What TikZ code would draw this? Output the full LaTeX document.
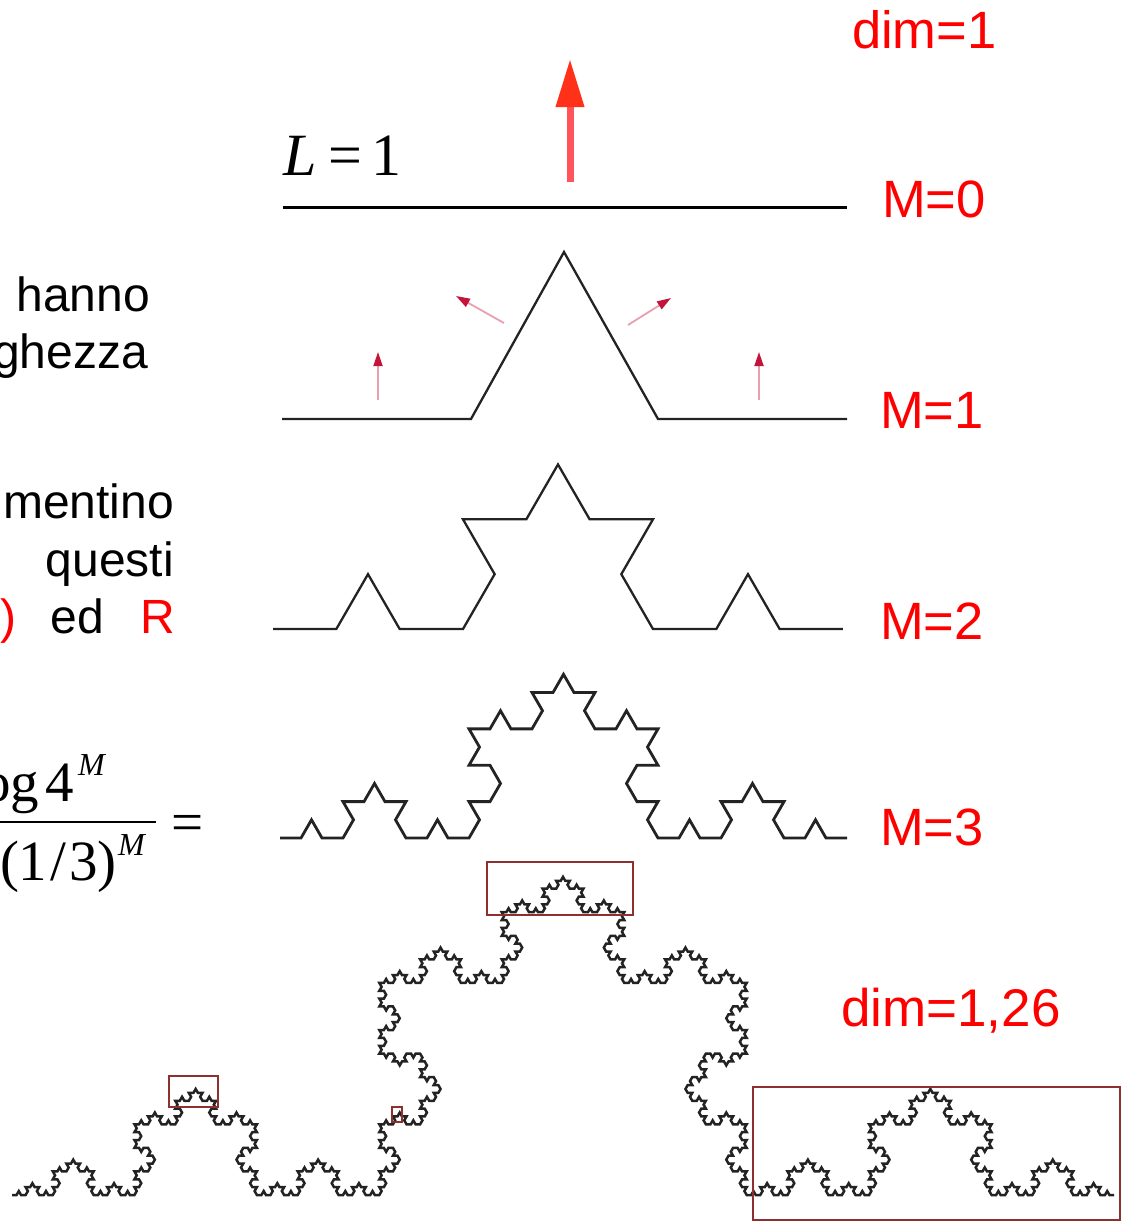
\documentclass[tikz,border=0pt]{standalone}
\usepackage{fontspec}
\setmainfont{Liberation Sans}
\newfontfamily\serifF{Liberation Serif}
\usetikzlibrary{arrows.meta,lindenmayersystems}
\pgfdeclarelindenmayersystem{KochC}{\rule{F -> F+F--F+F}}
\definecolor{redtxt}{RGB}{255,0,0}
\definecolor{boxred}{RGB}{140,48,48}
\definecolor{bigshaft}{RGB}{255,85,90}
\definecolor{bighead}{RGB}{255,50,25}
\definecolor{smallshaft}{RGB}{232,160,175}
\definecolor{smallhead}{RGB}{195,20,60}
\definecolor{curve}{RGB}{35,35,35}
\tikzset{
  txt/.style={inner sep=0pt,outer sep=0pt,font=\fontsize{48}{58}\selectfont,text=black},
  lab/.style={inner sep=0pt,outer sep=0pt,font=\fontsize{52.5}{60}\selectfont,text=redtxt,anchor=base west},
  ser/.style={inner sep=0pt,outer sep=0pt,font=\serifF\fontsize{57}{66}\selectfont,text=black,anchor=base west},
  supM/.style={inner sep=0pt,outer sep=0pt,font=\serifF\itshape\fontsize{32}{36}\selectfont,text=black,anchor=base west},
  kochline/.style={draw=curve,line width=2.3pt,line join=miter},
  zoombox/.style={draw=boxred,line width=2.4pt},
  bigarrow/.style={draw=bigshaft,line width=7pt,-{Triangle[width=27pt,length=48pt,color=bighead]}},
  smallarrow/.style={draw=smallshaft,line width=1.8pt,-{Triangle[width=9pt,length=14pt,color=smallhead]}},
}
\begin{document}
\begin{tikzpicture}[x=1pt,y=-1pt]
\useasboundingbox (0,0) rectangle (1124,1221);
% labels
\node[lab] (d1) at (852,48) {dim=1};
\node[lab] (m0) at (882,217) {M=0};
\node[lab] (m1) at (880,428) {M=1};
\node[lab] (m2) at (880,639) {M=2};
\node[lab] (m3) at (880,845) {M=3};
\node[lab,font=\fontsize{53}{60}\selectfont] (d2) at (841,1026) {dim=1,26};
% left text
\node[txt,anchor=base east] (t1) at (150,311) {hanno};
\node[txt,anchor=base east] (t2) at (148,368) {ghezza};
\node[txt,anchor=base east] (t3) at (174,518) {mentino};
\node[txt,anchor=base east] (t4) at (174,576) {questi};
\node[txt,anchor=base east,text=redtxt] (t5) at (16,633) {)};
\node[txt,anchor=base east] (t6) at (104,633) {ed};
\node[txt,anchor=base east,text=redtxt] (t7) at (175,633) {R};
% L=1
\node[ser,font=\serifF\fontsize{60}{70}\selectfont] (el) at (283,175) {\textit{L}\kern12pt=\kern9pt1};
% formula
\node[ser,anchor=base east] (lg) at (39,801) {log};
\node[ser] (four) at (45,801) {4};
\node[supM] (sm1) at (78,775) {M};
\node[ser] (den) at (0,880) {(1\kern3pt/\kern3pt3)};
\node[supM] (sm2) at (118,855) {M};
\coordinate (fa) at (0,822);
\coordinate (fb) at (156,822);
\draw[line width=2pt,black] (fa) -- (fb);
\node[ser] (eq) at (171,841) {=};
% arrows
\coordinate (a0s) at (570,182); \coordinate (a0e) at (570,59);
\draw[bigarrow] (a0s) -- (a0e);
\coordinate (a1s) at (378,400); \coordinate (a1e) at (378,352);
\coordinate (a2s) at (504,323); \coordinate (a2e) at (456,296);
\coordinate (a3s) at (628,325); \coordinate (a3e) at (671,298);
\coordinate (a4s) at (759,400); \coordinate (a4e) at (759,352);
\draw[smallarrow] (a1s) -- (a1e);
\draw[smallarrow] (a2s) -- (a2e);
\draw[smallarrow] (a3s) -- (a3e);
\draw[smallarrow] (a4s) -- (a4e);
% curves
\coordinate (c0a) at (283,207); \coordinate (c0b) at (847,207);
\draw[black,line width=3pt] (c0a) -- (c0b);
\draw[kochline] (282,419) -- (471,419) -- (564,252) -- (658,419) -- (847,419);
\begin{scope}[shift={(273,629)}]
\draw[kochline] (0,0) l-system[l-system={KochC,axiom=F,order=2,angle=60,step=63.33pt}];
\end{scope}
\begin{scope}[shift={(280,838)}]
\draw[kochline,line width=2.8pt] (0,0) l-system[l-system={KochC,axiom=F,order=3,angle=60,step=21pt}];
\end{scope}
\begin{scope}[shift={(12,1195)}]
\draw[kochline,line width=2.5pt] (0,0) l-system[l-system={KochC,axiom=F,order=5,angle=60,step=4.535pt}];
\end{scope}
% boxes
\draw[zoombox] (487,862) rectangle (633,915);
\draw[zoombox] (169,1076) rectangle (218,1107);
\draw[zoombox] (392,1107) rectangle (402,1122);
\draw[zoombox] (753,1087) rectangle (1120,1220);
\end{tikzpicture}
\end{document}
